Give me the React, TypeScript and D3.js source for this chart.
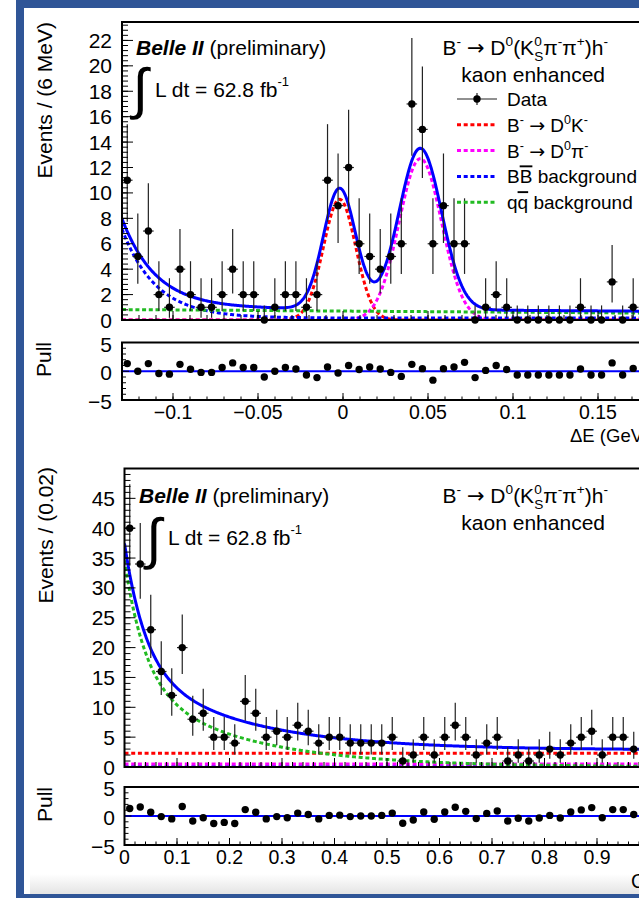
import React from 'react';
import * as d3 from 'd3';

const FONT = '"Liberation Sans", Arial, Helvetica, sans-serif';
const ARROW_FONT = '"DejaVu Sans", sans-serif';

// ---------- Upper plot: Delta E ----------
const deRange = [-0.13, 0.18];
const deCounts = [11, 5, 7, 2, 1, 4, 2, 1, 1, 2, 4, 2, 2, 0, 1, 2, 2, 1, 2, 11, 9, 12, 6, 5, 4, 5, 6, 17, 15, 6, 9, 6, 6, 0, 1, 2, 1, 0, 0, 0, 0, 0, 0, 1, 0, 0, 3, 0, 1, 0];
const dePulls = [1.33, 0, 1.33, -0.4, -0.5, 1.2, 0.35, -0.2, -0.2, 0.65, 1.45, 0.65, 0.65, -1.0, 0, 0.65, 0.4, -0.65, -1.1, 0.75, -0.3, 1.0, 0.3, 0.75, 0.4, -0.2, -0.9, 1.2, 0.45, -1.55, 0.45, 0.75, 1.55, -1.1, 0.15, 1.0, 0.3, -0.65, -0.65, -0.65, -0.65, -0.65, -0.65, 0.4, -0.65, -0.65, 1.45, -0.65, 0.5, -0.65];
const deXTicks = [-0.1, -0.05, 0, 0.05, 0.1, 0.15];
const deXLabels = ['\u22120.1', '\u22120.05', '0', '0.05', '0.1', '0.15'];
const deYTicks = [0, 2, 4, 6, 8, 10, 12, 14, 16, 18, 20, 22];
const deYMax = 23.45;
// fit components: [amplitude, mean, sigma] etc.
const deDK = [9.5, -0.002, 0.0095];
const deDPi = [12.7, 0.0455, 0.0125];
const deBB = [7.0, 0.02, 0.15];
const deQQ = [0.82, -0.9];

// ---------- Lower plot: classifier output ----------
const cRange = [0, 1];
const cCounts = [40, 34, 23, 16, 12, 20, 8, 9, 5, 5, 4, 11, 9, 5, 6, 5, 7, 6, 4, 5, 5, 4, 4, 4, 4, 5, 1, 2, 5, 2, 5, 7, 5, 2, 4, 5, 1, 2, 1, 2, 3, 2, 4, 5, 6, 2, 5, 5, 3, 4];
const cPulls = [1.3, 1.55, 0.65, -0.1, -0.5, 1.65, -0.85, -0.3, -1.3, -1.1, -1.3, 1.1, 0.65, -0.5, -0.1, -0.3, 0.5, 0.25, -0.5, 0.1, 0.15, -0.1, 0, 0, 0.1, 0.5, -1.25, -0.7, 0.7, -0.55, 0.7, 1.5, 0.8, -0.45, 0.45, 0.85, -0.85, -0.4, -0.85, -0.35, 0.1, -0.35, 0.7, 1.05, 1.45, -0.3, 1.1, 1.1, 0.25, 0.2];
const cXTicks = [0, 0.1, 0.2, 0.3, 0.4, 0.5, 0.6, 0.7, 0.8, 0.9, 1];
const cXLabels = ['0', '0.1', '0.2', '0.3', '0.4', '0.5', '0.6', '0.7', '0.8', '0.9', '1'];
const cYTicks = [0, 5, 10, 15, 20, 25, 30, 35, 40, 45];
const cYMax = 50;
const cQQ = [20.5, 0.04, 14.1, 0.207];
const cDK = [2.3];
const cDPi = [0.5];
const cBB = [0.05];

const pullTicks = [-5, 0, 5];
const pullLabels = ['\u22125', '0', '5'];

const COL = { red: '#ff0000', mag: '#ff00ff', blue: '#0000ff', green: '#22bb22' };

function chi2q(p: number, k: number) {
  if (k === 2) return -2 * Math.log(1 - p);
  const z = p > 0.5 ? 1 : -1;
  return k * Math.pow(1 - 2 / (9 * k) + z * Math.sqrt(2 / (9 * k)), 3);
}
function poissonErr(n: number): [number, number] {
  if (n === 0) return [0, 1.148];
  return [n - 0.5 * chi2q(0.158655, 2 * n), 0.5 * chi2q(0.841345, 2 * n + 2) - n];
}
const gauss = (p: number[], x: number) => p[0] * Math.exp(-0.5 * ((x - p[1]) / p[2]) ** 2);

type Curve = { f: (x: number) => number; color: string; dash?: string };

function MainPanel(props: any) {
  const { x, y, counts, range, curves, yTicks, yMinorStep, xMajor, xMinorStep, id, ylabX } = props;
  const [x0, x1] = x.range();
  const [yb, yt] = y.range();
  const nb = counts.length;
  const w = (range[1] - range[0]) / nb;
  const samples = d3.range(0, 601).map((i) => range[0] + (i * (range[1] - range[0])) / 600);
  const line = (f: (v: number) => number) =>
    d3.line<number>().x((v) => x(v)).y((v) => y(f(v)))(samples) as string;
  const yMinor = d3.range(0, y.domain()[1] + 1e-9, yMinorStep);
  const xMinor = d3.range(Math.ceil((range[0] + 1e-9) / xMinorStep) * xMinorStep, range[1] + 1e-9, xMinorStep);
  return (
    <g>
      <defs>
        <clipPath id={id}>
          <rect x={x0} y={yt} width={x1 - x0} height={yb - yt} />
        </clipPath>
      </defs>
      <g clipPath={`url(#${id})`}>
        {curves.map((c: Curve, i: number) => (
          <path key={i} d={line(c.f)} fill="none" stroke={c.color} strokeWidth={3} strokeDasharray={c.dash} />
        ))}
      </g>
      {counts.map((n: number, i: number) => {
        const [lo, hi] = poissonErr(n);
        const cx = x(range[0] + (i + 0.5) * w);
        return (
          <g key={i}>
            <line x1={cx} x2={cx} y1={y(n - lo)} y2={Math.max(yt, y(n + hi))} stroke="#222" strokeWidth={1.2} />
            <line x1={x(range[0] + i * w)} x2={x(range[0] + (i + 1) * w)} y1={y(n)} y2={y(n)} stroke="#222" strokeWidth={1.2} />
            <circle cx={cx} cy={y(n)} r={3.7} fill="#000" />
          </g>
        );
      })}
      <rect x={x0} y={yt} width={x1 - x0} height={yb - yt} fill="none" stroke="#000" strokeWidth={2} />
      {yMinor.map((v: number, i: number) => (
        <line key={'ym' + i} x1={x0} x2={x0 + 6} y1={y(v)} y2={y(v)} stroke="#000" strokeWidth={1} />
      ))}
      {yTicks.map((v: number, i: number) => (
        <g key={'yt' + i}>
          <line x1={x0} x2={x0 + 11} y1={y(v)} y2={y(v)} stroke="#000" strokeWidth={1} />
          <text x={ylabX} y={y(v) + 7.5} fontSize={21} textAnchor="end" fontFamily={FONT}>{v}</text>
        </g>
      ))}
      {xMinor.map((v: number, i: number) => (
        <line key={'xm' + i} x1={x(v)} x2={x(v)} y1={yb} y2={yb - 5} stroke="#000" strokeWidth={1} />
      ))}
      {xMajor.map((v: number, i: number) => (
        <line key={'xt' + i} x1={x(v)} x2={x(v)} y1={yb} y2={yb - 9} stroke="#000" strokeWidth={1} />
      ))}
    </g>
  );
}

function PullPanel(props: any) {
  const { x, y, pulls, range, xMajor, xMinorStep, xLabels, labY, ylabX } = props;
  const [x0, x1] = x.range();
  const [yb, yt] = y.range();
  const w = (range[1] - range[0]) / pulls.length;
  const xMinor = d3.range(Math.ceil((range[0] + 1e-9) / xMinorStep) * xMinorStep, range[1] + 1e-9, xMinorStep);
  return (
    <g>
      <line x1={x0} x2={x1} y1={y(0)} y2={y(0)} stroke={COL.blue} strokeWidth={2} />
      {pulls.map((p: number, i: number) => (
        <circle key={i} cx={x(range[0] + (i + 0.5) * w)} cy={y(p)} r={3.7} fill="#000" />
      ))}
      <rect x={x0} y={yt} width={x1 - x0} height={yb - yt} fill="none" stroke="#000" strokeWidth={2} />
      {d3.range(-5, 6).map((v) => (
        <line key={'pm' + v} x1={x0} x2={x0 + (v % 5 === 0 ? 7 : 4)} y1={y(v)} y2={y(v)} stroke="#000" strokeWidth={1} />
      ))}
      {pullTicks.map((v, i) => (
        <text key={'pl' + i} x={ylabX} y={y(v) + 9} fontSize={21} textAnchor="end" fontFamily={FONT}>{pullLabels[i]}</text>
      ))}
      {xMinor.map((v: number, i: number) => (
        <line key={'xm' + i} x1={x(v)} x2={x(v)} y1={yb} y2={yb - 3.5} stroke="#000" strokeWidth={1} />
      ))}
      {xMajor.map((v: number, i: number) => (
        <g key={'xt' + i}>
          <line x1={x(v)} x2={x(v)} y1={yb} y2={yb - 7} stroke="#000" strokeWidth={1} />
          <text x={x(v)} y={labY} fontSize={19.5} textAnchor="middle" fontFamily={FONT}>{xLabels[i]}</text>
        </g>
      ))}
    </g>
  );
}

function Decay({ x, y, fs }: { x: number; y: number; fs: number }) {
  const ss = fs * 0.65;
  const up = fs * 0.45;
  const dn = fs * 0.3;
  const w0 = 0.556 * ss;
  return (
    <text x={x} y={y} fontSize={fs} textAnchor="end" fontFamily={FONT}>
      <tspan>B</tspan>
      <tspan fontSize={ss} dy={-up}>-</tspan>
      <tspan dy={up}>{' '}</tspan>
      <tspan fontFamily={ARROW_FONT}>{'\u2192'}</tspan>
      <tspan>{' D'}</tspan>
      <tspan fontSize={ss} dy={-up}>0</tspan>
      <tspan dy={up}>(K</tspan>
      <tspan fontSize={ss} dy={-up}>0</tspan>
      <tspan fontSize={ss} dx={-w0} dy={up + dn}>S</tspan>
      <tspan dy={-dn}>{'\u03C0'}</tspan>
      <tspan fontSize={ss} dy={-up}>-</tspan>
      <tspan dy={up}>{'\u03C0'}</tspan>
      <tspan fontSize={ss} dy={-up}>+</tspan>
      <tspan dy={up}>)h</tspan>
      <tspan fontSize={ss} dy={-up}>-</tspan>
    </text>
  );
}

function LumiText({ ix, iy, tx, ty }: { ix: number; iy: number; tx: number; ty: number }) {
  return (
    <g fontFamily={FONT}>
      <text x={ix} y={iy} fontSize={56} textAnchor="middle">{'\u222B'}</text>
      <text x={tx} y={ty} fontSize={21}>
        <tspan>L dt = 62.8 fb</tspan>
        <tspan fontSize={13} dy={-11}>-1</tspan>
      </text>
    </g>
  );
}

function Belle({ x, y }: { x: number; y: number }) {
  return (
    <text x={x} y={y} fontSize={21} fontFamily={FONT}>
      <tspan fontWeight="bold" fontStyle="italic">Belle II</tspan>
      <tspan> (preliminary)</tspan>
    </text>
  );
}

const legendEntries = ['Data', 'D0K', 'D0pi', 'BB', 'qq'];

function Legend() {
  const lx0 = 457, lx1 = 497, tx = 507, y0 = 99, dy = 25.8, fs = 19, ss = 12.5;
  const colors = ['#000', COL.red, COL.mag, COL.blue, COL.green];
  return (
    <g fontFamily={FONT}>
      {legendEntries.map((e, i) => {
        const ly = y0 + i * dy;
        const by = ly + 7;
        let label: any = null;
        if (e === 'Data') label = <tspan>Data</tspan>;
        else if (e === 'D0K' || e === 'D0pi')
          label = (
            <>
              <tspan>B</tspan>
              <tspan fontSize={ss} dy={-8}>-</tspan>
              <tspan dy={8}>{' '}</tspan>
              <tspan fontFamily={ARROW_FONT}>{'\u2192'}</tspan>
              <tspan>{' D'}</tspan>
              <tspan fontSize={ss} dy={-8}>0</tspan>
              <tspan dy={8}>{e === 'D0K' ? 'K' : '\u03C0'}</tspan>
              <tspan fontSize={ss} dy={-8}>-</tspan>
            </>
          );
        else if (e === 'BB')
          label = (
            <>
              <tspan>B</tspan>
              <tspan textDecoration="overline" style={{ textDecoration: 'overline' }}>B</tspan>
              <tspan> background</tspan>
            </>
          );
        else
          label = (
            <>
              <tspan>q</tspan>
              <tspan textDecoration="overline" style={{ textDecoration: 'overline' }}>q</tspan>
              <tspan> background</tspan>
            </>
          );
        return (
          <g key={e}>
            {e === 'Data' ? (
              <g>
                <line x1={lx0} x2={lx1} y1={ly} y2={ly} stroke="#222" strokeWidth={1.2} />
                <line x1={(lx0 + lx1) / 2} x2={(lx0 + lx1) / 2} y1={ly - 6} y2={ly + 6} stroke="#222" strokeWidth={1.2} />
                <circle cx={(lx0 + lx1) / 2} cy={ly} r={3.7} fill="#000" />
              </g>
            ) : (
              <line x1={lx0} x2={lx1} y1={ly} y2={ly} stroke={colors[i]} strokeWidth={3} strokeDasharray="4 2.7" />
            )}
            <text x={tx} y={by} fontSize={fs}>{label}</text>
          </g>
        );
      })}
    </g>
  );
}

export default function App() {
  const xU = d3.scaleLinear().domain(deRange).range([122, 649]);
  const yU = d3.scaleLinear().domain([0, deYMax]).range([320, 22]);
  const pU = d3.scaleLinear().domain([-5, 5]).range([400, 342.5]);
  const xL = d3.scaleLinear().domain(cRange).range([124.5, 649.5]);
  const yL = d3.scaleLinear().domain([0, cYMax]).range([767, 468.5]);
  const pL = d3.scaleLinear().domain([-5, 5]).range([845, 787]);

  const dash = '4 2.7';
  const bbU = (v: number) => deBB[2] + deBB[0] * Math.exp(-(v - deRange[0]) / deBB[1]);
  const qqU = (v: number) => deQQ[0] + deQQ[1] * (v - deRange[0]);
  const dkU = (v: number) => gauss(deDK, v);
  const dpU = (v: number) => gauss(deDPi, v);
  const curvesU: Curve[] = [
    { f: dkU, color: COL.red, dash },
    { f: dpU, color: COL.mag, dash },
    { f: bbU, color: COL.blue, dash },
    { f: qqU, color: COL.green, dash },
    { f: (v) => dkU(v) + dpU(v) + bbU(v) + qqU(v), color: COL.blue },
  ];
  const qqL = (v: number) => cQQ[0] * Math.exp(-v / cQQ[1]) + cQQ[2] * Math.exp(-v / cQQ[3]);
  const curvesL: Curve[] = [
    { f: () => cDK[0], color: COL.red, dash },
    { f: () => cBB[0], color: COL.blue, dash },
    { f: () => cDPi[0], color: COL.mag, dash },
    { f: qqL, color: COL.green, dash },
    { f: (v) => qqL(v) + cDK[0] + cDPi[0] + cBB[0], color: COL.blue },
  ];

  return (
    <div style={{ position: 'absolute', left: 0, top: 0 }}>
      <svg width={639} height={898} style={{ display: 'block', background: '#fff' }}>
        <defs>
          <linearGradient id="btm" x1="0" y1="0" x2="0" y2="1">
            <stop offset="0" stopColor="#ffffff" />
            <stop offset="1" stopColor="#e4e4e4" />
          </linearGradient>
        </defs>
        <rect x={0} y={0} width={639} height={898} fill="#fff" />
        <rect x={30} y={874} width={609} height={20} fill="url(#btm)" />

        {/* Upper */}
        <MainPanel x={xU} y={yU} counts={deCounts} range={deRange} curves={curvesU} yTicks={deYTicks}
          yMinorStep={0.4} xMajor={deXTicks} xMinorStep={0.01} id="clipU" ylabX={112} />
        <PullPanel x={xU} y={pU} pulls={dePulls} range={deRange} xMajor={deXTicks} xMinorStep={0.01}
          xLabels={deXLabels} labY={418.5} ylabX={112} />
        <g fontFamily={FONT} fontSize={21}>
          <text transform="translate(52,22) rotate(-90)" textAnchor="end">Events / (6 MeV)</text>
          <text transform="translate(51,342) rotate(-90)" textAnchor="end">Pull</text>
          <text x={570} y={441.5} fontSize={18.5}>{'\u0394E (GeV)'}</text>
        </g>
        <Belle x={136} y={55} />
        <LumiText ix={140.5} iy={108} tx={155} ty={96.5} />
        <Decay x={608} y={55} fs={21} />
        <text x={605} y={82} fontSize={21} textAnchor="end" fontFamily={FONT}>kaon enhanced</text>
        <Legend />

        {/* Lower */}
        <MainPanel x={xL} y={yL} counts={cCounts} range={cRange} curves={curvesL} yTicks={cYTicks}
          yMinorStep={1} xMajor={cXTicks} xMinorStep={0.02} id="clipL" ylabX={115} />
        <PullPanel x={xL} y={pL} pulls={cPulls} range={cRange} xMajor={cXTicks} xMinorStep={0.02}
          xLabels={cXLabels} labY={864} ylabX={115} />
        <g fontFamily={FONT} fontSize={21}>
          <text transform="translate(52.5,467) rotate(-90)" textAnchor="end">Events / (0.02)</text>
          <text transform="translate(52,787) rotate(-90)" textAnchor="end">Pull</text>
          <text x={631} y={888} fontSize={19.5}>{"C'"}</text>
        </g>
        <Belle x={139} y={503} />
        <LumiText ix={154} iy={558} tx={168} ty={545} />
        <Decay x={608} y={503} fs={21} />
        <text x={605} y={530} fontSize={21} textAnchor="end" fontFamily={FONT}>kaon enhanced</text>

        {/* slide border */}
        <rect x={16} y={0} width={8} height={898} fill="#2F5597" />
        <rect x={16} y={0} width={623} height={8} fill="#2F5597" />
        <rect x={16} y={894} width={623} height={4} fill="#2F5597" />
      </svg>
    </div>
  );
}
